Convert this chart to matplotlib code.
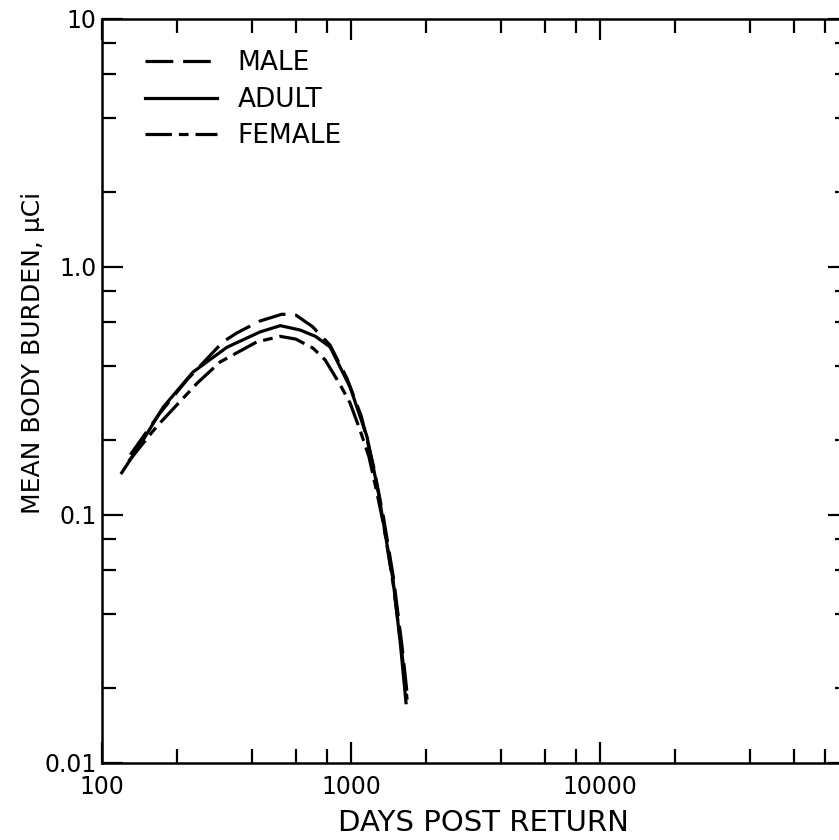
import matplotlib
matplotlib.use("Agg")
import matplotlib.pyplot as plt
from matplotlib.ticker import FixedLocator, NullFormatter

# values (days post return, mean body burden in uCi)
male_days = [130, 171, 219, 306, 348, 430, 528, 600, 700, 824, 964, 1100, 1230, 1350, 1480, 1600, 1690]
male_burden = [0.175, 0.258, 0.350, 0.499, 0.542, 0.605, 0.645, 0.640, 0.575, 0.484, 0.355, 0.250,
               0.158, 0.098, 0.056, 0.030, 0.018]

adult_days = [120, 146, 176, 232, 318, 431, 520, 624, 720, 824, 991, 1159, 1230, 1290, 1343, 1475, 1580, 1663]
adult_burden = [0.148, 0.200, 0.272, 0.377, 0.475, 0.547, 0.580, 0.557, 0.525, 0.476, 0.328, 0.207,
                0.155, 0.122, 0.0955, 0.0547, 0.030, 0.0175]

female_days = [128, 159, 171, 241, 298, 419, 520, 600, 703, 787, 900, 991, 1087, 1180, 1260, 1350, 1480, 1600, 1680]
female_burden = [0.165, 0.216, 0.235, 0.340, 0.414, 0.499, 0.525, 0.512, 0.471, 0.422, 0.338, 0.283,
                 0.220, 0.172, 0.128, 0.092, 0.052, 0.028, 0.018]

x_ticks = [100, 1000, 10000, 100000]
x_tick_labels = ["100", "1000", "10000", ""]
y_ticks = [0.01, 0.1, 1.0, 10]
y_tick_labels = ["0.01", "0.1", "1.0", "10"]

plt.rcParams["lines.scale_dashes"] = False
plt.rcParams["font.family"] = ["DejaVu Sans"]

fig = plt.figure(figsize=(8.39, 8.40), dpi=100)
# the right spine sits just past the edge of the scanned page
ax = fig.add_axes([0.1216, 0.0917, 0.8903, 0.8857])

ax.plot(male_days, male_burden, color="black", lw=2.3, linestyle=(0, (20, 7)), label="MALE")
ax.plot(adult_days, adult_burden, color="black", lw=2.3, linestyle="-", label="ADULT")
ax.plot(female_days, female_burden, color="black", lw=2.3, linestyle=(0, (19, 5, 7, 5)), label="FEMALE")

ax.set_xscale("log")
ax.set_yscale("log")
ax.set_xlim(100, 100000)
ax.set_ylim(0.01, 10)

# only 2, 4, 6, 8 minor ticks, like the original
minor_x = [m * 10 ** e for e in range(2, 5) for m in (2, 4, 6, 8)]
minor_y = [m * 10.0 ** e for e in range(-2, 1) for m in (2, 4, 6, 8)]
ax.xaxis.set_major_locator(FixedLocator(x_ticks))
ax.xaxis.set_minor_locator(FixedLocator(minor_x))
ax.yaxis.set_major_locator(FixedLocator(y_ticks))
ax.yaxis.set_minor_locator(FixedLocator(minor_y))
ax.set_xticklabels(x_tick_labels)
ax.set_yticklabels(y_tick_labels)
ax.xaxis.set_minor_formatter(NullFormatter())
ax.yaxis.set_minor_formatter(NullFormatter())

ax.tick_params(which="both", direction="in", top=True, right=True, width=1.6, colors="black")
ax.tick_params(which="major", length=15, labelsize=17)
ax.tick_params(which="minor", length=10)
ax.tick_params(axis="x", which="major", pad=9)
ax.tick_params(axis="y", which="major", pad=4)

for side in ax.spines.values():
    side.set_linewidth(1.8)

ax.set_xlabel("DAYS POST RETURN", fontsize=21)
ax.set_ylabel("MEAN BODY BURDEN, \u03bcCi", fontsize=18)
ax.xaxis.set_label_coords(0.511, -0.062)
ax.yaxis.set_label_coords(-0.076, 0.551)

ax.legend(loc="upper left", bbox_to_anchor=(0.058, 0.958), frameon=False, fontsize=19,
          handlelength=2.7, handletextpad=0.8, labelspacing=0.4, borderpad=0, borderaxespad=0)

plt.savefig("out.png", dpi=100)
